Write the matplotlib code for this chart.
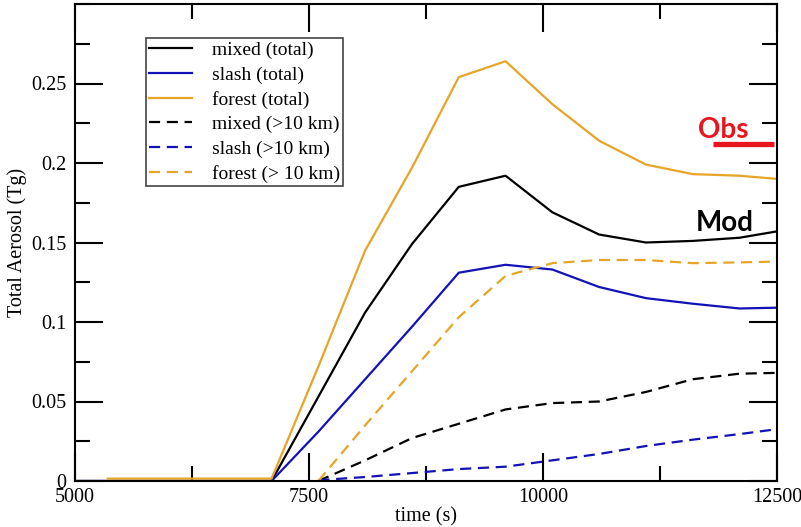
import matplotlib
matplotlib.use("Agg")
import matplotlib.pyplot as plt
from matplotlib.ticker import MultipleLocator, FixedLocator

# ---- data ----
t_nodes = [7100, 7600, 8100, 8600, 9100, 9600, 10100, 10600, 11100, 11600, 12100, 12500]

forest_total_t = [5350, 7100] + t_nodes[1:]
forest_total = [0.0015, 0.0015, 0.072, 0.145, 0.197, 0.254, 0.264, 0.237, 0.214, 0.199, 0.193, 0.192, 0.190]

mixed_total_t = [5000] + t_nodes
mixed_total = [0.0, 0.0, 0.053, 0.106, 0.149, 0.185, 0.192, 0.169, 0.155, 0.150, 0.151, 0.153, 0.157]

slash_total_t = [5000] + t_nodes
slash_total = [0.0, 0.0, 0.031, 0.064, 0.097, 0.131, 0.136, 0.133, 0.122, 0.115, 0.1115, 0.1085, 0.109]

gt10_t = t_nodes[1:]
mixed_gt10 = [0.0, 0.013, 0.027, 0.036, 0.045, 0.049, 0.050, 0.056, 0.064, 0.0675, 0.068]
slash_gt10 = [0.0005, 0.0025, 0.005, 0.0075, 0.009, 0.013, 0.017, 0.022, 0.026, 0.0295, 0.0326]
forest_gt10 = [0.0, 0.035, 0.069, 0.103, 0.129, 0.137, 0.139, 0.139, 0.137, 0.1375, 0.138]

obs_t = [11815, 12468]
obs_val = [0.2118, 0.2118]

labels = ["mixed (total)", "slash (total)", "forest (total)",
          "mixed (>10 km)", "slash (>10 km)", "forest (> 10 km)"]

x_ticks = [5000, 7500, 10000, 12500]
y_ticks = [0, 0.05, 0.1, 0.15, 0.2, 0.25]

# ---- style ----
BLACK = "#000000"
BLUE = "#1212B8"
ORANGE = "#E6A526"
serif = ["Liberation Serif", "DejaVu Serif"]
plt.rcParams["font.family"] = serif

fig = plt.figure(figsize=(8.01, 5.27), dpi=100)
ax = fig.add_axes([75 / 801, 46 / 527, 702 / 801, 477 / 527])

lw = 1.6
dash = (5, 3)
ax.plot(mixed_total_t, mixed_total, color=BLACK, lw=lw, label=labels[0])
ax.plot(slash_total_t, slash_total, color=BLUE, lw=lw, label=labels[1])
ax.plot(forest_total_t, forest_total, color=ORANGE, lw=lw, label=labels[2])
ax.plot(gt10_t, mixed_gt10, color=BLACK, lw=lw, dashes=dash, label=labels[3])
ax.plot(gt10_t, slash_gt10, color=BLUE, lw=lw, dashes=dash, label=labels[4])
ax.plot(gt10_t, forest_gt10, color=ORANGE, lw=lw, dashes=dash, label=labels[5])

# Obs marker line and annotations
ax.plot(obs_t, obs_val, color="#E8141E", lw=3.8, solid_capstyle="butt")
ax.text(11922, 0.221, "Obs", color="#E8141E", fontsize=20, fontweight="bold",
        family=["Lato", "DejaVu Sans"], ha="center", va="center")
ax.text(11943, 0.162, "Mod", color="black", fontsize=20, fontweight="bold",
        family=["Lato", "DejaVu Sans"], ha="center", va="center")

ax.set_xlim(5000, 12500)
ax.set_ylim(0, 0.3)
ax.xaxis.set_major_locator(FixedLocator(x_ticks))
ax.xaxis.set_minor_locator(MultipleLocator(1250))
ax.yaxis.set_major_locator(FixedLocator(y_ticks))
ax.yaxis.set_minor_locator(MultipleLocator(0.025))
ax.set_xticklabels([str(v) for v in x_ticks])
ax.set_yticklabels(["%g" % v for v in y_ticks])

ax.tick_params(which="both", direction="in", top=True, right=True, width=1.5,
               labelsize=14.5)
ax.tick_params(axis="x", pad=5)
ax.tick_params(axis="y", pad=6)
ax.tick_params(which="major", length=20)
ax.tick_params(which="minor", length=11)
for s in ax.spines.values():
    s.set_linewidth(1.5)

ax.set_xlabel("time (s)", fontsize=14.5, labelpad=0)
ax.set_ylabel("Total Aerosol (Tg)", fontsize=14.5, labelpad=3)

leg = ax.legend(loc="upper left", bbox_to_anchor=(0.101, 0.929), borderaxespad=0,
                fontsize=14, handlelength=2.2, labelspacing=0.36, fancybox=False,
                framealpha=1, edgecolor="#444444", borderpad=0.18, handletextpad=1.0)
leg.get_frame().set_linewidth(1.2)

fig.savefig("out.png", dpi=100)
